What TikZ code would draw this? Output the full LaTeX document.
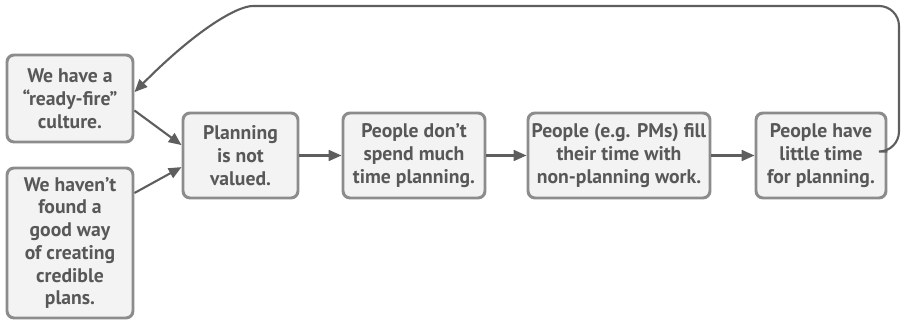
\documentclass[tikz,border=0pt]{standalone}
\usepackage{fontspec}
\setmainfont{PT Sans}
\usepackage{tikz}
\usetikzlibrary{arrows.meta,positioning}

\definecolor{boxfill}{HTML}{F3F3F3}
\definecolor{boxline}{HTML}{8C8C8C}
\definecolor{inkgray}{HTML}{585858}
\definecolor{arrowgray}{HTML}{5E5E5E}

\begin{document}
\begin{tikzpicture}[
    font=\bfseries\fontsize{14pt}{16.2pt}\selectfont,
    causebox/.style={draw=boxline, fill=boxfill, rounded corners=5pt, line width=2.1pt, align=center, text=inkgray, inner sep=1pt},
    arrow/.style={-{Triangle[length=3.2mm, width=2.7mm]}, line width=1.5pt, draw=arrowgray}
]
\useasboundingbox (0,0) rectangle (22.625,8);

% Root causes
\node[causebox, minimum width=3.15cm, minimum height=2.175cm] (ready) at (1.75,5.5375) {We have a\\``ready-fire''\\culture.};
\node[causebox, minimum width=3.15cm, minimum height=3.75cm] (noway) at (1.75,1.925) {We haven't\\found a\\good way\\of creating\\credible\\plans.};

% Main chain
\node[causebox, minimum width=2.875cm, minimum height=2.125cm] (notvalued) at (6.0125,4.1125) {Planning\\is not\\valued.};
\node[causebox, minimum width=3.55cm, minimum height=2.125cm] (dontspend) at (10.35,4.1125) {People don't\\spend much\\time planning.};
\node[causebox, minimum width=4.55cm, minimum height=2.125cm] (fillwork) at (15.475,4.1125) {People (e.g. PMs) fill\\their time with\\non-planning work.};
\node[causebox, minimum width=3.25cm, minimum height=2.125cm] (littletime) at (20.525,4.1125) {People have\\little time\\for planning.};

\draw[arrow] ([yshift=-3mm]ready.east) -- ([yshift=2.6mm]notvalued.west);
\draw[arrow] ([yshift=12.5mm]noway.east) -- ([yshift=-2.9mm]notvalued.west);
\draw[arrow] (notvalued) -- (dontspend);
\draw[arrow] (dontspend) -- (fillwork);
\draw[arrow] (fillwork) -- (littletime);

% Feedback loop back to the culture box
\coordinate (loopR) at (22.475,7.85);
\coordinate (loopL) at (6.825,7.85);
\draw[arrow, rounded corners=0.5cm] ([yshift=1mm]littletime.east) -| (loopR) -- (loopL)
    [sharp corners] .. controls (5.9,7.85) and (4.85,7.2) .. ([yshift=1.6mm]ready.east);

\end{tikzpicture}
\end{document}
